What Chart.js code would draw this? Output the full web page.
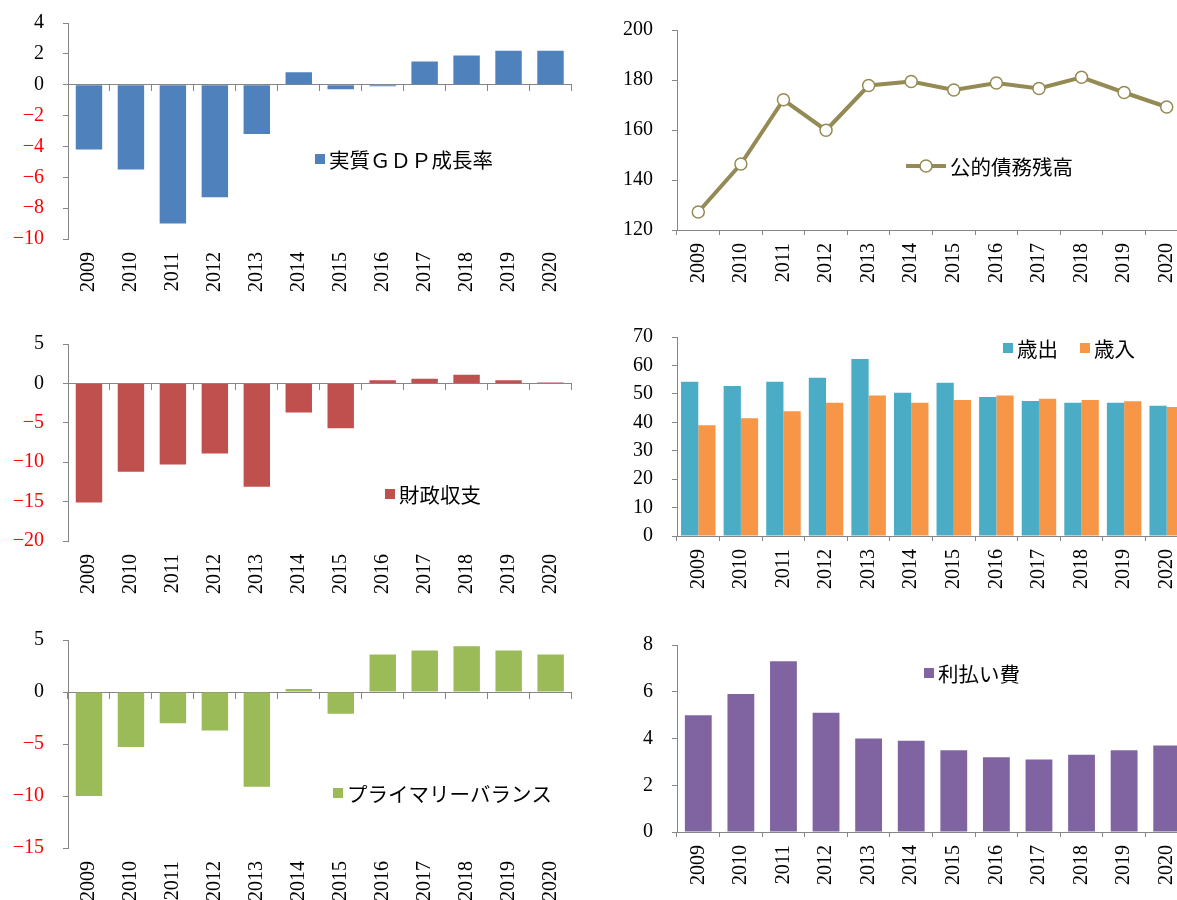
<!DOCTYPE html>
<html lang="ja">
<head>
<meta charset="utf-8">
<title>財政指標 2009-2020</title>
<script src="https://cdn.jsdelivr.net/npm/chart.js@4.4.0/dist/chart.umd.min.js"></script>
<style>
  html, body { margin: 0; padding: 0; background: #fff; overflow: hidden; }
  body { width: 1177px; height: 900px; position: relative; }
  canvas { position: absolute; }
</style>
</head>
<body>
<canvas id="gdpChart" width="588" height="300" style="left:0;top:0"></canvas>
<canvas id="debtChart" width="620" height="300" style="left:588px;top:0"></canvas>
<canvas id="balanceChart" width="588" height="310" style="left:0;top:300px"></canvas>
<canvas id="budgetChart" width="620" height="310" style="left:588px;top:300px"></canvas>
<canvas id="primaryChart" width="588" height="290" style="left:0;top:610px"></canvas>
<canvas id="interestChart" width="620" height="290" style="left:588px;top:610px"></canvas>
<script>
// 年次
const years = ['2009', '2010', '2011', '2012', '2013', '2014', '2015', '2016', '2017', '2018', '2019', '2020'];

// 各系列
const gdpGrowth = [-4.2, -5.5, -9.0, -7.3, -3.2, 0.8, -0.3, -0.1, 1.5, 1.9, 2.2, 2.2];
const publicDebt = [127.2, 146.4, 172.1, 159.9, 177.8, 179.4, 176.0, 178.8, 176.6, 181.1, 175.0, 169.2];
const fiscalBalance = [-15.1, -11.2, -10.3, -8.9, -13.1, -3.7, -5.7, 0.4, 0.6, 1.1, 0.4, 0.1];
const expenditure = [54.3, 52.8, 54.3, 55.7, 62.3, 50.4, 53.9, 48.9, 47.5, 46.9, 46.9, 45.8];
const revenue = [39.0, 41.4, 43.9, 46.9, 49.4, 46.9, 47.8, 49.4, 48.3, 47.8, 47.4, 45.4];
const primaryBalance = [-10.0, -5.3, -3.0, -3.7, -9.1, 0.3, -2.1, 3.6, 4.0, 4.4, 4.0, 3.6];
const interestPayments = [5.0, 5.9, 7.3, 5.1, 4.0, 3.9, 3.5, 3.2, 3.1, 3.3, 3.5, 3.7];

// 縦軸の範囲 [最小, 最大, 間隔]
const gdpAxis = [-10, 4, 2];
const debtAxis = [120, 200, 20];
const balanceAxis = [-20, 5, 5];
const budgetAxis = [0, 70, 10];
const primaryAxis = [-15, 5, 5];
const interestAxis = [0, 8, 2];

const axisGray = '#868686';
const tickFont = { family: '"Liberation Serif", "DejaVu Serif", serif', size: 20 };
const legendFont = '20.5px "Noto Sans CJK JP", sans-serif';

// 凡例をプロット内に描く
const insideLegend = {
    id: 'insideLegend',
    afterDraw(chart, args, opts) {
        const ctx = chart.ctx;
        ctx.save();
        ctx.font = legendFont;
        ctx.textBaseline = 'middle';
        let x = opts.x;
        const y = opts.y;
        chart.data.datasets.forEach(ds => {
            if (chart.config.type === 'line') {
                ctx.strokeStyle = ds.borderColor;
                ctx.lineWidth = ds.borderWidth;
                ctx.beginPath();
                ctx.moveTo(x, y);
                ctx.lineTo(x + 40, y);
                ctx.stroke();
                ctx.beginPath();
                ctx.arc(x + 20, y, ds.pointRadius, 0, Math.PI * 2);
                ctx.fillStyle = ds.pointBackgroundColor;
                ctx.fill();
                ctx.lineWidth = ds.pointBorderWidth;
                ctx.stroke();
                x += 44;
            } else {
                ctx.fillStyle = ds.backgroundColor;
                ctx.fillRect(x, y - 5, 10, 10);
                x += 14;
            }
            ctx.fillStyle = '#000';
            ctx.fillText(ds.label, x, y + 1);
            x += ctx.measureText(ds.label).width + (opts.gap || 0);
        });
        ctx.restore();
    }
};

function valueAxis([min, max, step], areaLeft) {
    return {
        min, max,
        ticks: {
            stepSize: step,
            padding: 19,
            font: tickFont,
            color: c => c.tick.value < 0 ? '#ff0000' : '#000',
            callback: v => v < 0 ? '\u2212' + Math.abs(v) : String(v)
        },
        grid: { display: true, drawOnChartArea: false, drawTicks: true, tickLength: 5, color: axisGray },
        border: { display: true, color: axisGray },
        // 幅は固定、ラベル分の上下余白は取らない
        afterFit: s => { s.width = areaLeft; s.paddingTop = 0; s.paddingBottom = 0; }
    };
}

function yearAxis(height, withTicks) {
    return {
        offset: true,
        ticks: { minRotation: 90, maxRotation: 90, autoSkip: false, padding: withTicks ? 8 : 13, font: tickFont, color: '#000' },
        grid: withTicks
            ? { display: true, offset: true, drawOnChartArea: false, drawTicks: true, tickLength: 5, color: axisGray }
            : { display: false, drawTicks: false },
        border: { display: withTicks, color: axisGray },
        afterFit: s => { s.height = height; }
    };
}

// ゼロの位置に引く横軸（目盛り付き）
const zeroAxis = {
    type: 'category',
    position: { y: 0 },
    offset: true,
    ticks: { display: false },
    grid: { display: true, offset: true, drawOnChartArea: false, drawTicks: true, tickLength: 6, color: axisGray },
    border: { display: true, color: axisGray },
    afterFit: s => { s.height = 0; }
};

function makeChart(id, type, datasets, range, area, legend, crossesZero) {
    const canvas = document.getElementById(id);
    const scales = {
        x: yearAxis(canvas.height - area.bottom, !crossesZero),
        y: valueAxis(range, area.left)
    };
    if (crossesZero) scales.x2 = zeroAxis;
    return new Chart(canvas, {
        type,
        data: { labels: years, datasets },
        options: {
            responsive: false,
            animation: false,
            events: [],
            layout: { padding: { top: area.top, right: canvas.width - area.right, left: 0, bottom: 0 } },
            scales,
            plugins: { legend: { display: false }, tooltip: { enabled: false }, insideLegend: legend }
        },
        plugins: [insideLegend]
    });
}

function barSet(label, data, color) {
    return { label, data, backgroundColor: color, borderWidth: 0, barPercentage: 0.63, categoryPercentage: 1 };
}

makeChart('gdpChart', 'bar', [barSet('実質ＧＤＰ成長率', gdpGrowth, '#4F81BD')],
    gdpAxis, { left: 68, top: 23, right: 576, bottom: 239 }, { x: 315, y: 159 }, true);

makeChart('debtChart', 'line', [{
    label: '公的債務残高',
    data: publicDebt,
    borderColor: '#948A54',
    borderWidth: 4,
    pointRadius: 6,
    pointBorderWidth: 1.5,
    pointBackgroundColor: '#fff',
    pointBorderColor: '#948A54',
    tension: 0
}], debtAxis, { left: 89, top: 30, right: 600, bottom: 230 }, { x: 318, y: 166 }, false);

makeChart('balanceChart', 'bar', [barSet('財政収支', fiscalBalance, '#C0504D')],
    balanceAxis, { left: 68, top: 44, right: 576, bottom: 241 }, { x: 385, y: 194 }, true);

makeChart('budgetChart', 'bar', [
    { label: '歳出', data: expenditure, backgroundColor: '#4BACC6', borderWidth: 0, barPercentage: 1, categoryPercentage: 0.81 },
    { label: '歳入', data: revenue, backgroundColor: '#F79646', borderWidth: 0, barPercentage: 1, categoryPercentage: 0.81 }
], budgetAxis, { left: 89, top: 37, right: 600, bottom: 236 }, { x: 415, y: 48, gap: 22 }, false);

makeChart('primaryChart', 'bar', [barSet('プライマリーバランス', primaryBalance, '#9BBB59')],
    primaryAxis, { left: 68, top: 30, right: 579, bottom: 238 }, { x: 333, y: 183 }, true);

makeChart('interestChart', 'bar', [barSet('利払い費', interestPayments, '#8064A2')],
    interestAxis, { left: 89, top: 35, right: 600, bottom: 222 }, { x: 336, y: 63 }, false);
</script>
</body>
</html>
